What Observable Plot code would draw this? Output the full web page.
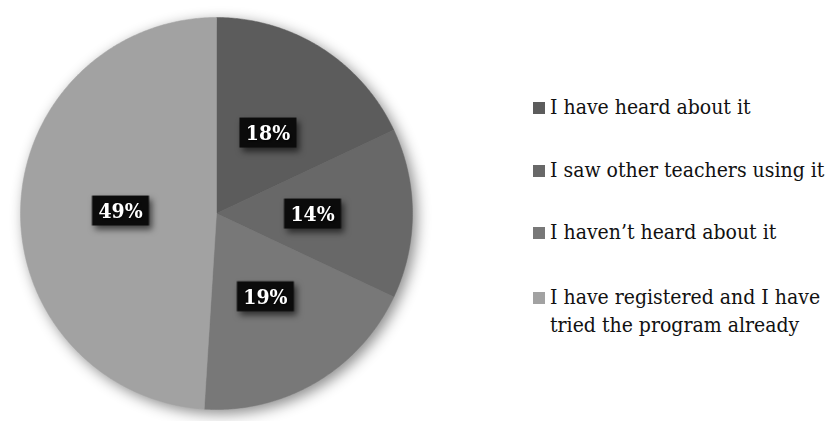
<!DOCTYPE html>
<html>
<head>
<meta charset="utf-8">
<script src="https://cdn.jsdelivr.net/npm/d3@7"></script>
<script src="https://cdn.jsdelivr.net/npm/@observablehq/plot@0.6"></script>
<style>
  html, body { margin: 0; padding: 0; background: #fff; }
  #wrap { position: relative; width: 827px; height: 421px; overflow: hidden; }
  #legend { position: absolute; left: 533px; top: 0; font-family: "DejaVu Serif Condensed", "DejaVu Serif", serif; font-stretch: condensed; font-size: 21px; color: #111; }
  .item { position: absolute; left: 0; white-space: nowrap; line-height: 28px; }
  .sw { position: absolute; left: 0; top: 9px; width: 12px; height: 12px; }
  .lbl { position: absolute; left: 17px; top: 0; }
</style>
</head>
<body>
<div id="wrap"><div id="chart"></div><div id="legend"></div></div>
<script>
const categories = [
  "I have heard about it",
  "I saw other teachers using it",
  "I haven\u2019t heard about it",
  "I have registered and I have tried the program already"
];
const legendLines = [
  ["I have heard about it"],
  ["I saw other teachers using it"],
  ["I haven\u2019t heard about it"],
  ["I have registered and I have", "tried the program already"]
];
const values = [18, 14, 19, 49];
const labels = ["18%", "14%", "19%", "49%"];
const colors = ["#5c5c5c", "#686868", "#787878", "#a2a2a2"];

// geometry (pixels)
const W = 440, H = 421, CX = 216, CY = 213, R = 196;

const arcs = d3.pie().sort(null).value(d => d)(values);
const slices = [];
const labelPts = [];
arcs.forEach((a, i) => {
  slices.push({k: categories[i], x: 0, y: 0});
  const n = Math.max(2, Math.ceil((a.endAngle - a.startAngle) / (Math.PI / 360)));
  for (let j = 0; j <= n; j++) {
    const t = a.startAngle + (a.endAngle - a.startAngle) * j / n;
    slices.push({k: categories[i], x: Math.sin(t), y: Math.cos(t)});
  }
  slices.push({k: categories[i], x: 0, y: 0});
  const m = (a.startAngle + a.endAngle) / 2;
  labelPts.push({k: categories[i], text: labels[i], x: 0.49 * Math.sin(m), y: 0.49 * Math.cos(m)});
});

const boxSymbol = { draw(ctx) { ctx.rect(-28.5, -15, 57, 30); } };

const plot = Plot.plot({
  width: W, height: H,
  marginTop: 0, marginRight: 0, marginBottom: 0, marginLeft: 0,
  x: {domain: [-CX / R, (W - CX) / R], range: [0, W], axis: null},
  y: {domain: [-(H - CY) / R, CY / R], range: [H, 0], axis: null},
  color: {domain: categories, range: colors},
  marks: [
    Plot.line(slices, {x: "x", y: "y", z: "k", fill: "k", stroke: "k", strokeWidth: 0.5, curve: "linear"}),
    Plot.dot(labelPts, {x: "x", y: "y", symbol: boxSymbol, fill: "#0b0b0b", stroke: "none", r: 5}),
    Plot.text(labelPts, {x: "x", y: "y", text: "text", fill: "white", fontSize: 21, fontWeight: "bold", fontFamily: "DejaVu Serif Condensed, DejaVu Serif, serif", dy: 1})
  ]
});
document.getElementById("chart").appendChild(plot);

// shadows
const gs = plot.querySelectorAll("g[aria-label]");
gs.forEach(g => {
  const lab = g.getAttribute("aria-label");
  if (lab === "line") g.style.filter = "drop-shadow(4px 4px 7px rgba(0,0,0,0.45))";
  if (lab === "dot") g.style.filter = "drop-shadow(3px 4px 3px rgba(0,0,0,0.6))";
  if (lab === "text") g.style.filter = "drop-shadow(1px 1px 1px rgba(0,0,0,0.8))";
});
plot.style.fontStretch = "condensed";

// legend
const tops = [93, 156, 218, 283];
const legend = d3.select("#legend");
legendLines.forEach((lines, i) => {
  const item = legend.append("div").attr("class", "item").style("top", tops[i] + "px");
  item.append("div").attr("class", "sw").style("background", colors[i]);
  const l = item.append("div").attr("class", "lbl");
  lines.forEach((t, j) => { if (j) l.append("br"); l.append("span").text(t); });
});
</script>
</body>
</html>
